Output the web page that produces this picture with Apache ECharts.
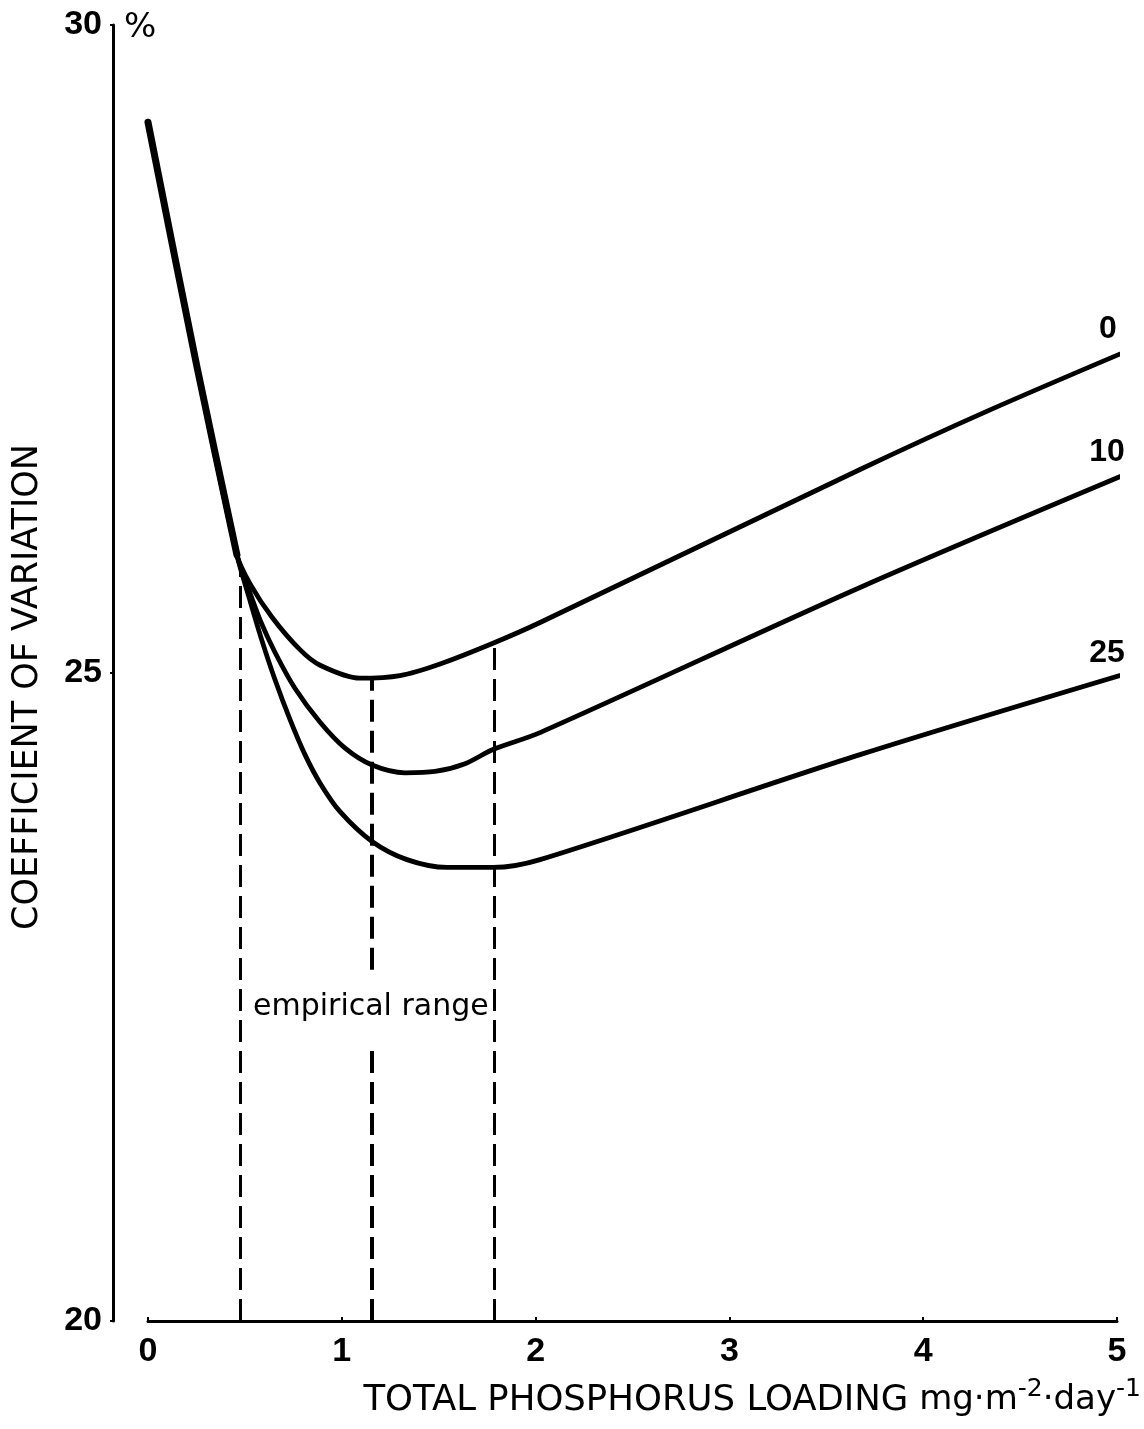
<!DOCTYPE html>
<html><head><meta charset="utf-8">
<script src="https://cdn.jsdelivr.net/npm/echarts@6/dist/echarts.min.js"></script>
<style>html,body{margin:0;padding:0;background:#fff}#c{width:1144px;height:1429px}</style>
</head><body><div id="c"></div>
<script>
// ---- data ----
const xTicks = [0, 1, 2, 3, 4, 5];
const yTicks = [20, 25, 30];
const seriesNames = ['0', '10', '25'];
// shared steep start of all curves
const sharedX = [0, 0.253, 0.459];
const sharedY = [29.25, 27.36, 25.91];
// curve "0"
const c0x = [0.526, 0.640, 0.784, 0.888, 1.094, 1.300, 1.507, 1.780, 2.023, 3.674, 4.345, 5.108];
const c0y = [25.69, 25.43, 25.18, 25.06, 24.96, 24.98, 25.07, 25.23, 25.39, 26.57, 27.03, 27.52];
// curve "10"
const c10x = [0.516, 0.578, 0.655, 0.759, 0.888, 1.017, 1.156, 1.326, 1.481, 1.636, 1.780, 2.023, 3.674, 5.103];
const c10y = [25.66, 25.41, 25.16, 24.88, 24.62, 24.42, 24.29, 24.23, 24.24, 24.30, 24.41, 24.54, 25.66, 26.57];
// curve "25"
const c25x = [0.526, 0.588, 0.655, 0.733, 0.810, 0.888, 0.991, 1.156, 1.336, 1.543, 1.780, 2.023, 3.674, 5.103];
const c25y = [25.56, 25.25, 24.95, 24.64, 24.37, 24.15, 23.93, 23.70, 23.56, 23.50, 23.50, 23.56, 24.37, 25.02];
// empirical range dashed verticals
const rangeX = [0.478, 1.156, 1.785];
const rangeTop = [25.80, 24.96, 25.23];
const rangeGap = [22.11, 22.71];   // gap in middle line for the label
const rangeLabel = 'empirical range';
const rangeLabelAt = [1.15, 22.42];
const xTitle = 'TOTAL PHOSPHORUS LOADING';
const yTitle = 'COEFFICIENT OF VARIATION';

// ---- build ----
function pts(xs, ys) { return xs.map((x, i) => [x, ys[i]]); }
const shared = pts(sharedX, sharedY);
const curves = [pts(c0x, c0y), pts(c10x, c10y), pts(c25x, c25y)].map(c => shared.concat(c));

const digitFont = { fontFamily: 'Liberation Sans', fontWeight: 'bold', fontSize: 34, color: '#000' };
const titleFont = 'DejaVu Sans';

const lineSeries = curves.map((d, i) => ({
  type: 'line', name: seriesNames[i], data: d, smooth: 0.3,
  showSymbol: false, symbol: 'none', clip: false, silent: true,
  lineStyle: { color: '#000', width: 4.8, cap: 'round', join: 'round' }, z: 3
}));
// the steep common trunk is drawn heavier in the original
lineSeries.push({
  type: 'line', name: 'trunk', data: shared, smooth: 0.3,
  showSymbol: false, symbol: 'none', clip: false, silent: true,
  lineStyle: { color: '#000', width: 7, cap: 'round', join: 'round' }, z: 3
});

const endLabels = {
  type: 'scatter', symbolSize: 0, silent: true, clip: false,
  itemStyle: { opacity: 1 },
  data: curves.map((d, i) => ({ value: d[d.length - 1], name: seriesNames[i] })),
  label: { show: true, position: 'top', distance: 4, offset: [-30, 3], formatter: p => p.name,
           fontFamily: 'Liberation Sans', fontWeight: 'bold', fontSize: 32, color: '#000', opacity: 1 }
};

const dashStyle = { type: [22, 9], color: '#000', width: 3 };
const markData = [];
rangeX.forEach((x, i) => {
  if (i === 1) {
    markData.push([{ coord: [x, 20], lineStyle: Object.assign({}, dashStyle, { width: 4 }) }, { coord: [x, rangeGap[0]] }]);
    markData.push([{ coord: [x, rangeGap[1]], lineStyle: Object.assign({}, dashStyle, { width: 4 }) }, { coord: [x, rangeTop[i]] }]);
  } else {
    markData.push([{ coord: [x, 20] }, { coord: [x, rangeTop[i]] }]);
  }
});

const rangeSeries = {
  type: 'scatter', symbolSize: 0, silent: true,
  itemStyle: { opacity: 1 },
  data: [{ value: rangeLabelAt, name: rangeLabel }],
  label: { show: true, position: 'inside', formatter: p => p.name,
           fontFamily: titleFont, fontSize: 30, color: '#000', opacity: 1 },
  markLine: { silent: true, symbol: ['none', 'none'], label: { show: false },
              lineStyle: dashStyle, data: markData, animation: false }
};

const chart = echarts.init(document.getElementById('c'), null, { renderer: 'canvas' });
chart.setOption({
  animation: false,
  backgroundColor: '#fff',
  title: { text: '%', left: 119, top: 6,
           textStyle: { fontFamily: titleFont, fontWeight: 'normal', fontSize: 34, color: '#000' } },
  grid: { left: 148, right: 27, top: 25, bottom: 108, containLabel: false },
  xAxis: {
    type: 'value', min: xTicks[0], max: xTicks[xTicks.length - 1], interval: 1,
    axisLine: { onZero: false, lineStyle: { color: '#000', width: 3 } },
    axisTick: { show: true, inside: true, length: 4, lineStyle: { color: '#000', width: 2 } },
    splitLine: { show: false },
    axisLabel: Object.assign({ margin: 14 }, digitFont),
    name: '{t|' + xTitle + '}{u| mg·m}{s|-2}{u|·day}{s|-1}',
    nameLocation: 'end', nameGap: 24,
    nameTextStyle: {
      align: 'right', verticalAlign: 'top', padding: [56, 0, 0, 0],
      rich: {
        t: { fontFamily: titleFont, fontSize: 35.5, color: '#000' },
        u: { fontFamily: titleFont, fontSize: 34, color: '#000' },
        s: { fontFamily: titleFont, fontSize: 25, color: '#000', verticalAlign: 'top', padding: [0, 0, 22, 0] }
      }
    }
  },
  yAxis: {
    type: 'value', min: yTicks[0], max: yTicks[yTicks.length - 1], interval: 5,
    offset: 35,
    axisLine: { show: true, onZero: false, lineStyle: { color: '#000', width: 3 } },
    axisTick: { show: true, length: 3, lineStyle: { color: '#000', width: 2 } },
    splitLine: { show: false },
    axisLabel: Object.assign({ margin: 11 }, digitFont),
    name: yTitle, nameLocation: 'middle', nameRotate: 90, nameGap: 68,
    nameTextStyle: { fontFamily: titleFont, fontSize: 35, color: '#000', padding: [0, 28, 0, 0] }
  },
  series: lineSeries.concat([endLabels, rangeSeries])
});
</script>
</body></html>
